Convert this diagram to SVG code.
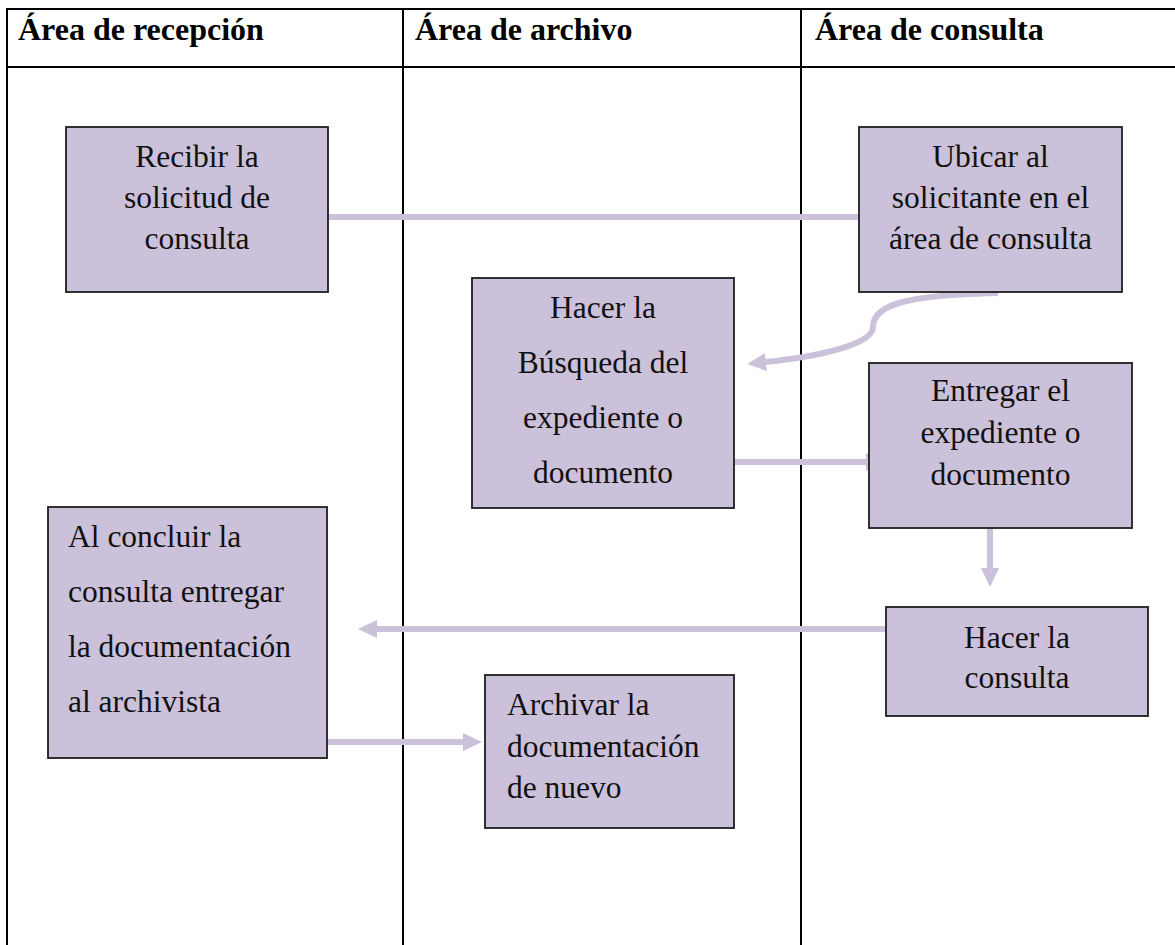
<svg xmlns="http://www.w3.org/2000/svg" width="1175" height="945" viewBox="0 0 1175 945">
<defs>
<style>
.grid{stroke:#000;stroke-width:2;fill:none}
.hdr{font-family:"Liberation Serif","Times New Roman",serif;font-size:32px;font-weight:bold;fill:#000}
.box{fill:#ccc1da;stroke:#1e1e1e;stroke-width:1.8}
.t{font-family:"Liberation Serif","Times New Roman",serif;font-size:31.5px;fill:#111}
.c{text-anchor:middle}
.conn{stroke:#ccc1da;stroke-width:6;fill:none}
</style>
<marker id="ah" markerUnits="userSpaceOnUse" markerWidth="20" markerHeight="20" refX="0" refY="9" orient="auto" viewBox="0 0 20 18">
<path d="M0,0 L19,9 L0,18 z" fill="#ccc1da"/>
</marker>
</defs>
<rect width="1175" height="945" fill="#fff"/>
<g id="table">
<line class="grid" x1="6" y1="9" x2="1175" y2="9"/>
<line class="grid" x1="6" y1="67" x2="1175" y2="67"/>
<line class="grid" x1="7" y1="8" x2="7" y2="945"/>
<line class="grid" x1="403" y1="8" x2="403" y2="945"/>
<line class="grid" x1="801" y1="8" x2="801" y2="945"/>
<text class="hdr" x="18" y="40">Área de recepción</text>
<text class="hdr" x="415" y="40">Área de archivo</text>
<text class="hdr" x="815" y="40">Área de consulta</text>
</g>
<g id="connectors">
<line class="conn" x1="328" y1="217" x2="859" y2="217"/>
<path class="conn" d="M998,293 C905,295 873,305 873,327 C873,345 815,357 766,362" marker-end="url(#ah)"/>
<line class="conn" x1="734" y1="462" x2="866" y2="462" marker-end="url(#ah)"/>
<line class="conn" x1="990" y1="528" x2="990" y2="568" marker-end="url(#ah)"/>
<line class="conn" x1="886" y1="629" x2="377" y2="629" marker-end="url(#ah)"/>
<line class="conn" x1="327" y1="742" x2="463" y2="742" marker-end="url(#ah)"/>
</g>
<g id="n1">
<rect class="box" x="66" y="127" width="262" height="165"/>
<text class="t c" x="197" y="167">Recibir la</text>
<text class="t c" x="197" y="208">solicitud de</text>
<text class="t c" x="197" y="249">consulta</text>
</g>
<g id="n2">
<rect class="box" x="859" y="127" width="263" height="165"/>
<text class="t c" x="990.5" y="167">Ubicar al</text>
<text class="t c" x="990.5" y="208">solicitante en el</text>
<text class="t c" x="990.5" y="249">área de consulta</text>
</g>
<g id="n3">
<rect class="box" x="472" y="278" width="262" height="230"/>
<text class="t c" x="603" y="318">Hacer la</text>
<text class="t c" x="603" y="373">Búsqueda del</text>
<text class="t c" x="603" y="428">expediente o</text>
<text class="t c" x="603" y="483">documento</text>
</g>
<g id="n4">
<rect class="box" x="869" y="363" width="263" height="165"/>
<text class="t c" x="1000.5" y="401">Entregar el</text>
<text class="t c" x="1000.5" y="443">expediente o</text>
<text class="t c" x="1000.5" y="485">documento</text>
</g>
<g id="n5">
<rect class="box" x="886" y="607" width="262" height="109"/>
<text class="t c" x="1017" y="648">Hacer la</text>
<text class="t c" x="1017" y="688">consulta</text>
</g>
<g id="n6">
<rect class="box" x="48" y="507" width="279" height="251"/>
<text class="t" x="68" y="547">Al concluir la</text>
<text class="t" x="68" y="602">consulta entregar</text>
<text class="t" x="68" y="657">la documentación</text>
<text class="t" x="68" y="712">al archivista</text>
</g>
<g id="n7">
<rect class="box" x="485" y="675" width="249" height="153"/>
<text class="t" x="507" y="715">Archivar la</text>
<text class="t" x="507" y="757">documentación</text>
<text class="t" x="507" y="798">de nuevo</text>
</g>
</svg>
